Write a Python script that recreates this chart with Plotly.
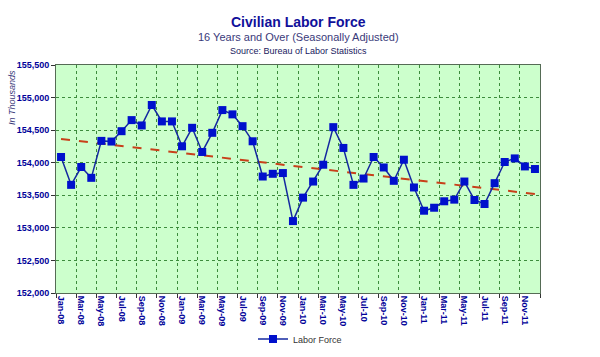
import plotly.graph_objects as go

month_names = ["Jan", "Feb", "Mar", "Apr", "May", "Jun", "Jul", "Aug", "Sep", "Oct", "Nov", "Dec"]
years = ["08", "09", "10", "11"]
categories = [f"{m}-{y}" for y in years for m in month_names]

labor_force = [
    154088, 153660, 153934, 153768, 154335, 154325, 154484, 154654, 154572, 154886, 154634, 154634,
    154252, 154536, 154165, 154459, 154808, 154742, 154561, 154329, 153788, 153830, 153841, 153104,
    153464, 153711, 153969, 154546, 154227, 153660, 153757, 154088, 153927, 153722, 154046, 153620,
    153263, 153309, 153408, 153433, 153711, 153428, 153366, 153686, 154011, 154066, 153943, 153903,
]

# linear trendline as drawn in the original (value at first and last month)
trend_x = [0, len(categories) - 1]
trend_values = [154365, 153520]

y_ticks = [152000, 152500, 153000, 153500, 154000, 154500, 155000, 155500]

x = list(range(len(categories)))

W, H = 600, 357
L, R, T, B = 56, 540, 65, 293

fig = go.Figure()
fig.add_trace(go.Scatter(
    x=trend_x, y=trend_values, mode="lines", showlegend=False, hoverinfo="skip",
    line=dict(color="#C8401A", width=2, dash="dash"),
))
fig.add_trace(go.Scatter(
    x=x, y=labor_force, mode="lines+markers", name="Labor Force",
    line=dict(color="#1428A0", width=1.5),
    marker=dict(symbol="square", size=8, color="#0010CC", line=dict(width=0)),
))

tick_font = dict(family="Liberation Sans Narrow, Arial Narrow, Liberation Sans", size=9, color="#000099", weight="bold")
tick_idx = list(range(0, len(categories), 2))
fig.update_xaxes(
    range=[-0.5, len(categories) - 0.5], automargin=False,
    tickmode="array", tickvals=tick_idx, ticktext=[categories[i] for i in tick_idx],
    tickangle=90, ticks="", showgrid=False, tickfont=tick_font,
    showline=True, linecolor="#556B55", linewidth=1, mirror=True,
    minor=dict(tick0=1.5, dtick=2, showgrid=True, gridcolor="#3C8C3C", griddash="dot",
               gridwidth=1, ticks="outside", ticklen=4, tickcolor="#333333"),
    zeroline=False,
)
fig.update_yaxes(
    range=[152000, 155500], automargin=False, tickmode="array", tickvals=y_ticks,
    ticktext=[f"{v:,}" for v in y_ticks], tickfont=tick_font,
    showgrid=True, gridcolor="#3C8C3C", griddash="dot", gridwidth=1,
    ticks="outside", ticklen=4, tickcolor="#333333",
    showline=True, linecolor="#556B55", linewidth=1, mirror=True, zeroline=False,
)

def px_x(p):
    return (p - L) / (R - L)

def px_y(p):
    return (B - p) / (B - T)

annotations = [
    dict(text="<b>Civilian Labor Force</b>", x=px_x(298), y=px_y(22),
         font=dict(family="Liberation Sans, Arial", size=14, color="#10109A")),
    dict(text="16 Years and Over (Seasonally Adjusted)", x=px_x(298), y=px_y(37),
         font=dict(family="Liberation Sans, Arial", size=11, color="#3A3A7A")),
    dict(text="Source: Bureau of Labor Statistics", x=px_x(298), y=px_y(51),
         font=dict(family="Liberation Sans Narrow, Arial Narrow, Liberation Sans", size=9, color="#202060")),
    dict(text="<i>In Thousands</i>", x=px_x(12), y=px_y(98), textangle=-90,
         font=dict(family="Liberation Sans, Arial", size=9, color="#3A3A7A")),
]
for a in annotations:
    a.update(xref="paper", yref="paper", xanchor="center", yanchor="middle", showarrow=False)

fig.update_layout(
    width=W, height=H,
    margin=dict(l=L, r=W - R, t=T, b=H - B, pad=0, autoexpand=False),
    paper_bgcolor="white", plot_bgcolor="#CCFFCC",
    annotations=annotations,
    showlegend=True,
    legend=dict(orientation="h", xref="container", yref="container",
                x=300 / W, y=(H - 339) / H, xanchor="center", yanchor="middle",
                font=dict(family="Liberation Sans, Arial", size=9, color="#333333"),
                bgcolor="rgba(0,0,0,0)", itemwidth=30),
)

fig.write_html(
    "out.html",
    config={"displayModeBar": False},
    post_script="document.body.style.margin='0';document.body.style.overflow='hidden';",
)
